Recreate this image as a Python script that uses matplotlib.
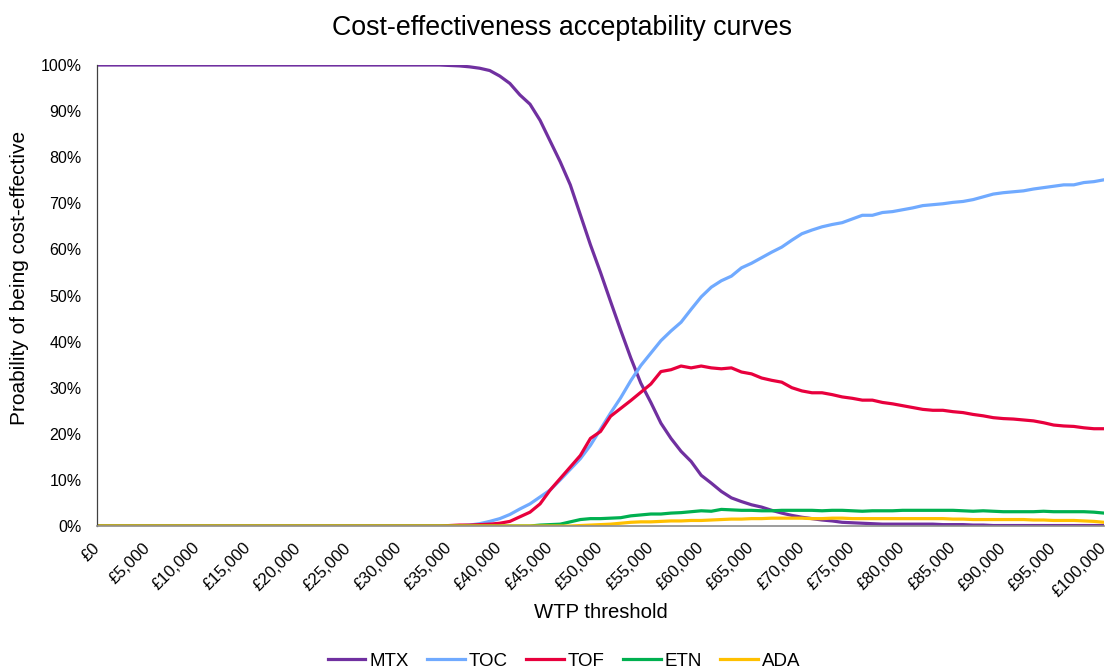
import matplotlib
matplotlib.use("Agg")
import matplotlib.pyplot as plt
from matplotlib.ticker import FuncFormatter, MultipleLocator

# WTP threshold in £1,000 steps (0 .. 100,000)
wtp = [k * 1000 for k in range(101)]

mtx = [100.0] * 35 + [
    99.9, 99.8, 99.6, 99.3, 98.8, 97.6, 96.0, 93.5, 91.5, 88.0,
    83.5, 79.0, 74.0, 67.5, 61.0, 55.0, 48.7, 42.5, 36.5, 31.0,
    26.8, 22.3, 19.0, 16.2, 14.0, 11.0, 9.3, 7.5, 6.1, 5.3,
    4.6, 4.1, 3.4, 2.8, 2.3, 1.9, 1.6, 1.3, 1.1, 0.8,
    0.7, 0.6, 0.5, 0.4, 0.4, 0.4, 0.4, 0.4, 0.4, 0.3,
    0.3, 0.3, 0.2, 0.2, 0.1, 0.1, 0.1, 0.1, 0.1, 0.1,
    0.1, 0.1, 0.1, 0.1, 0.1, 0.1]

toc = [0.0] * 36 + [
    0.05, 0.2, 0.5, 1.0, 1.6, 2.5, 3.7, 4.8, 6.3, 7.8,
    10.0, 12.3, 14.6, 17.5, 21.0, 24.5, 27.8, 31.5, 34.8, 37.5,
    40.2, 42.3, 44.2, 47.0, 49.7, 51.8, 53.2, 54.2, 56.0, 57.0,
    58.2, 59.4, 60.5, 62.0, 63.4, 64.2, 64.9, 65.4, 65.8, 66.6,
    67.4, 67.4, 68.0, 68.2, 68.6, 69.0, 69.5, 69.7, 69.9, 70.2,
    70.4, 70.8, 71.4, 72.0, 72.3, 72.5, 72.7, 73.1, 73.4, 73.7,
    74.0, 74.0, 74.5, 74.7, 75.1]

tof = [0.0] * 35 + [
    0.1, 0.2, 0.2, 0.3, 0.4, 0.6, 1.0, 2.0, 3.0, 4.8,
    7.8, 10.3, 12.8, 15.3, 19.0, 20.5, 23.8, 25.5, 27.2, 29.0,
    30.8, 33.5, 33.9, 34.7, 34.3, 34.7, 34.3, 34.1, 34.3, 33.4,
    33.0, 32.1, 31.6, 31.2, 30.0, 29.3, 28.9, 28.9, 28.5, 28.0,
    27.7, 27.3, 27.3, 26.8, 26.5, 26.1, 25.7, 25.3, 25.1, 25.1,
    24.8, 24.6, 24.2, 23.9, 23.5, 23.3, 23.2, 23.0, 22.8, 22.4,
    21.9, 21.7, 21.6, 21.3, 21.1, 21.1]

etn = [0.0] * 44 + [
    0.2, 0.3, 0.4, 0.9, 1.4, 1.6, 1.6, 1.7, 1.8, 2.2,
    2.4, 2.6, 2.6, 2.8, 2.9, 3.1, 3.3, 3.2, 3.6, 3.5,
    3.4, 3.4, 3.3, 3.3, 3.4, 3.4, 3.4, 3.4, 3.3, 3.4,
    3.4, 3.3, 3.2, 3.3, 3.3, 3.3, 3.4, 3.4, 3.4, 3.4,
    3.4, 3.4, 3.3, 3.2, 3.3, 3.2, 3.1, 3.1, 3.1, 3.1,
    3.2, 3.1, 3.1, 3.1, 3.1, 3.0, 2.8]

ada = [0.0] * 48 + [
    0.1, 0.2, 0.3, 0.4, 0.6, 0.8, 0.9, 0.9, 1.0, 1.1,
    1.1, 1.2, 1.2, 1.3, 1.4, 1.5, 1.5, 1.6, 1.6, 1.7,
    1.7, 1.7, 1.7, 1.6, 1.6, 1.7, 1.7, 1.6, 1.6, 1.6,
    1.6, 1.6, 1.6, 1.6, 1.6, 1.6, 1.6, 1.5, 1.5, 1.4,
    1.4, 1.4, 1.4, 1.4, 1.4, 1.3, 1.3, 1.2, 1.2, 1.2,
    1.1, 1.0, 0.8]

series = [
    ("MTX", mtx, "#7030A0"),
    ("TOC", toc, "#70AAFF"),
    ("TOF", tof, "#E8003D"),
    ("ETN", etn, "#00B050"),
    ("ADA", ada, "#FFC000"),
]

plt.rcParams["font.family"] = ["Liberation Sans", "DejaVu Sans"]

fig = plt.figure(figsize=(11.1, 6.68), dpi=100)
ax = fig.add_axes([97 / 1110, 1 - 526 / 668, 1007 / 1110, 461 / 668])

for name, vals, col in series:
    ax.plot(wtp, vals, color=col, lw=2.3, label=name, solid_joinstyle="round")

ax.set_xlim(0, 100000)
ax.set_ylim(0, 100)
ax.xaxis.set_major_locator(MultipleLocator(5000))
ax.yaxis.set_major_locator(MultipleLocator(10))
ax.xaxis.set_major_formatter(FuncFormatter(lambda v, p: f"£{int(v):,}"))
ax.yaxis.set_major_formatter(FuncFormatter(lambda v, p: f"{int(v)}%"))
ax.tick_params(axis="y", length=0, pad=11, labelsize=11.5, labelcolor="#000000")
ax.tick_params(axis="x", length=0, pad=14, labelsize=12, labelcolor="#000000")
for lbl in ax.get_xticklabels():
    lbl.set_rotation(45)
    lbl.set_ha("right")
    lbl.set_va("center")
    lbl.set_rotation_mode("anchor")

ax.spines["top"].set_visible(False)
ax.spines["right"].set_visible(False)
ax.spines["left"].set_color("#404040")
ax.spines["left"].set_linewidth(0.9)
ax.spines["bottom"].set_color("#8c8c8c")
ax.spines["bottom"].set_linewidth(1.2)

fig.text(562 / 1110, 1 - 28 / 668, "Cost-effectiveness acceptability curves",
         ha="center", va="center", fontsize=19.3)
fig.text(601 / 1110, 1 - 613 / 668, "WTP threshold",
         ha="center", va="center", fontsize=14.6)
fig.text(20 / 1110, 1 - 278 / 668, "Proability of being cost-effective",
         ha="center", va="center", rotation=90, fontsize=15)

fig.legend(loc="center", bbox_to_anchor=(564 / 1110, 1 - 661 / 668), ncol=5,
           frameon=False, fontsize=13.5, handlelength=2.0, handletextpad=0.2,
           columnspacing=1.0)

fig.savefig("out.png", dpi=100)
